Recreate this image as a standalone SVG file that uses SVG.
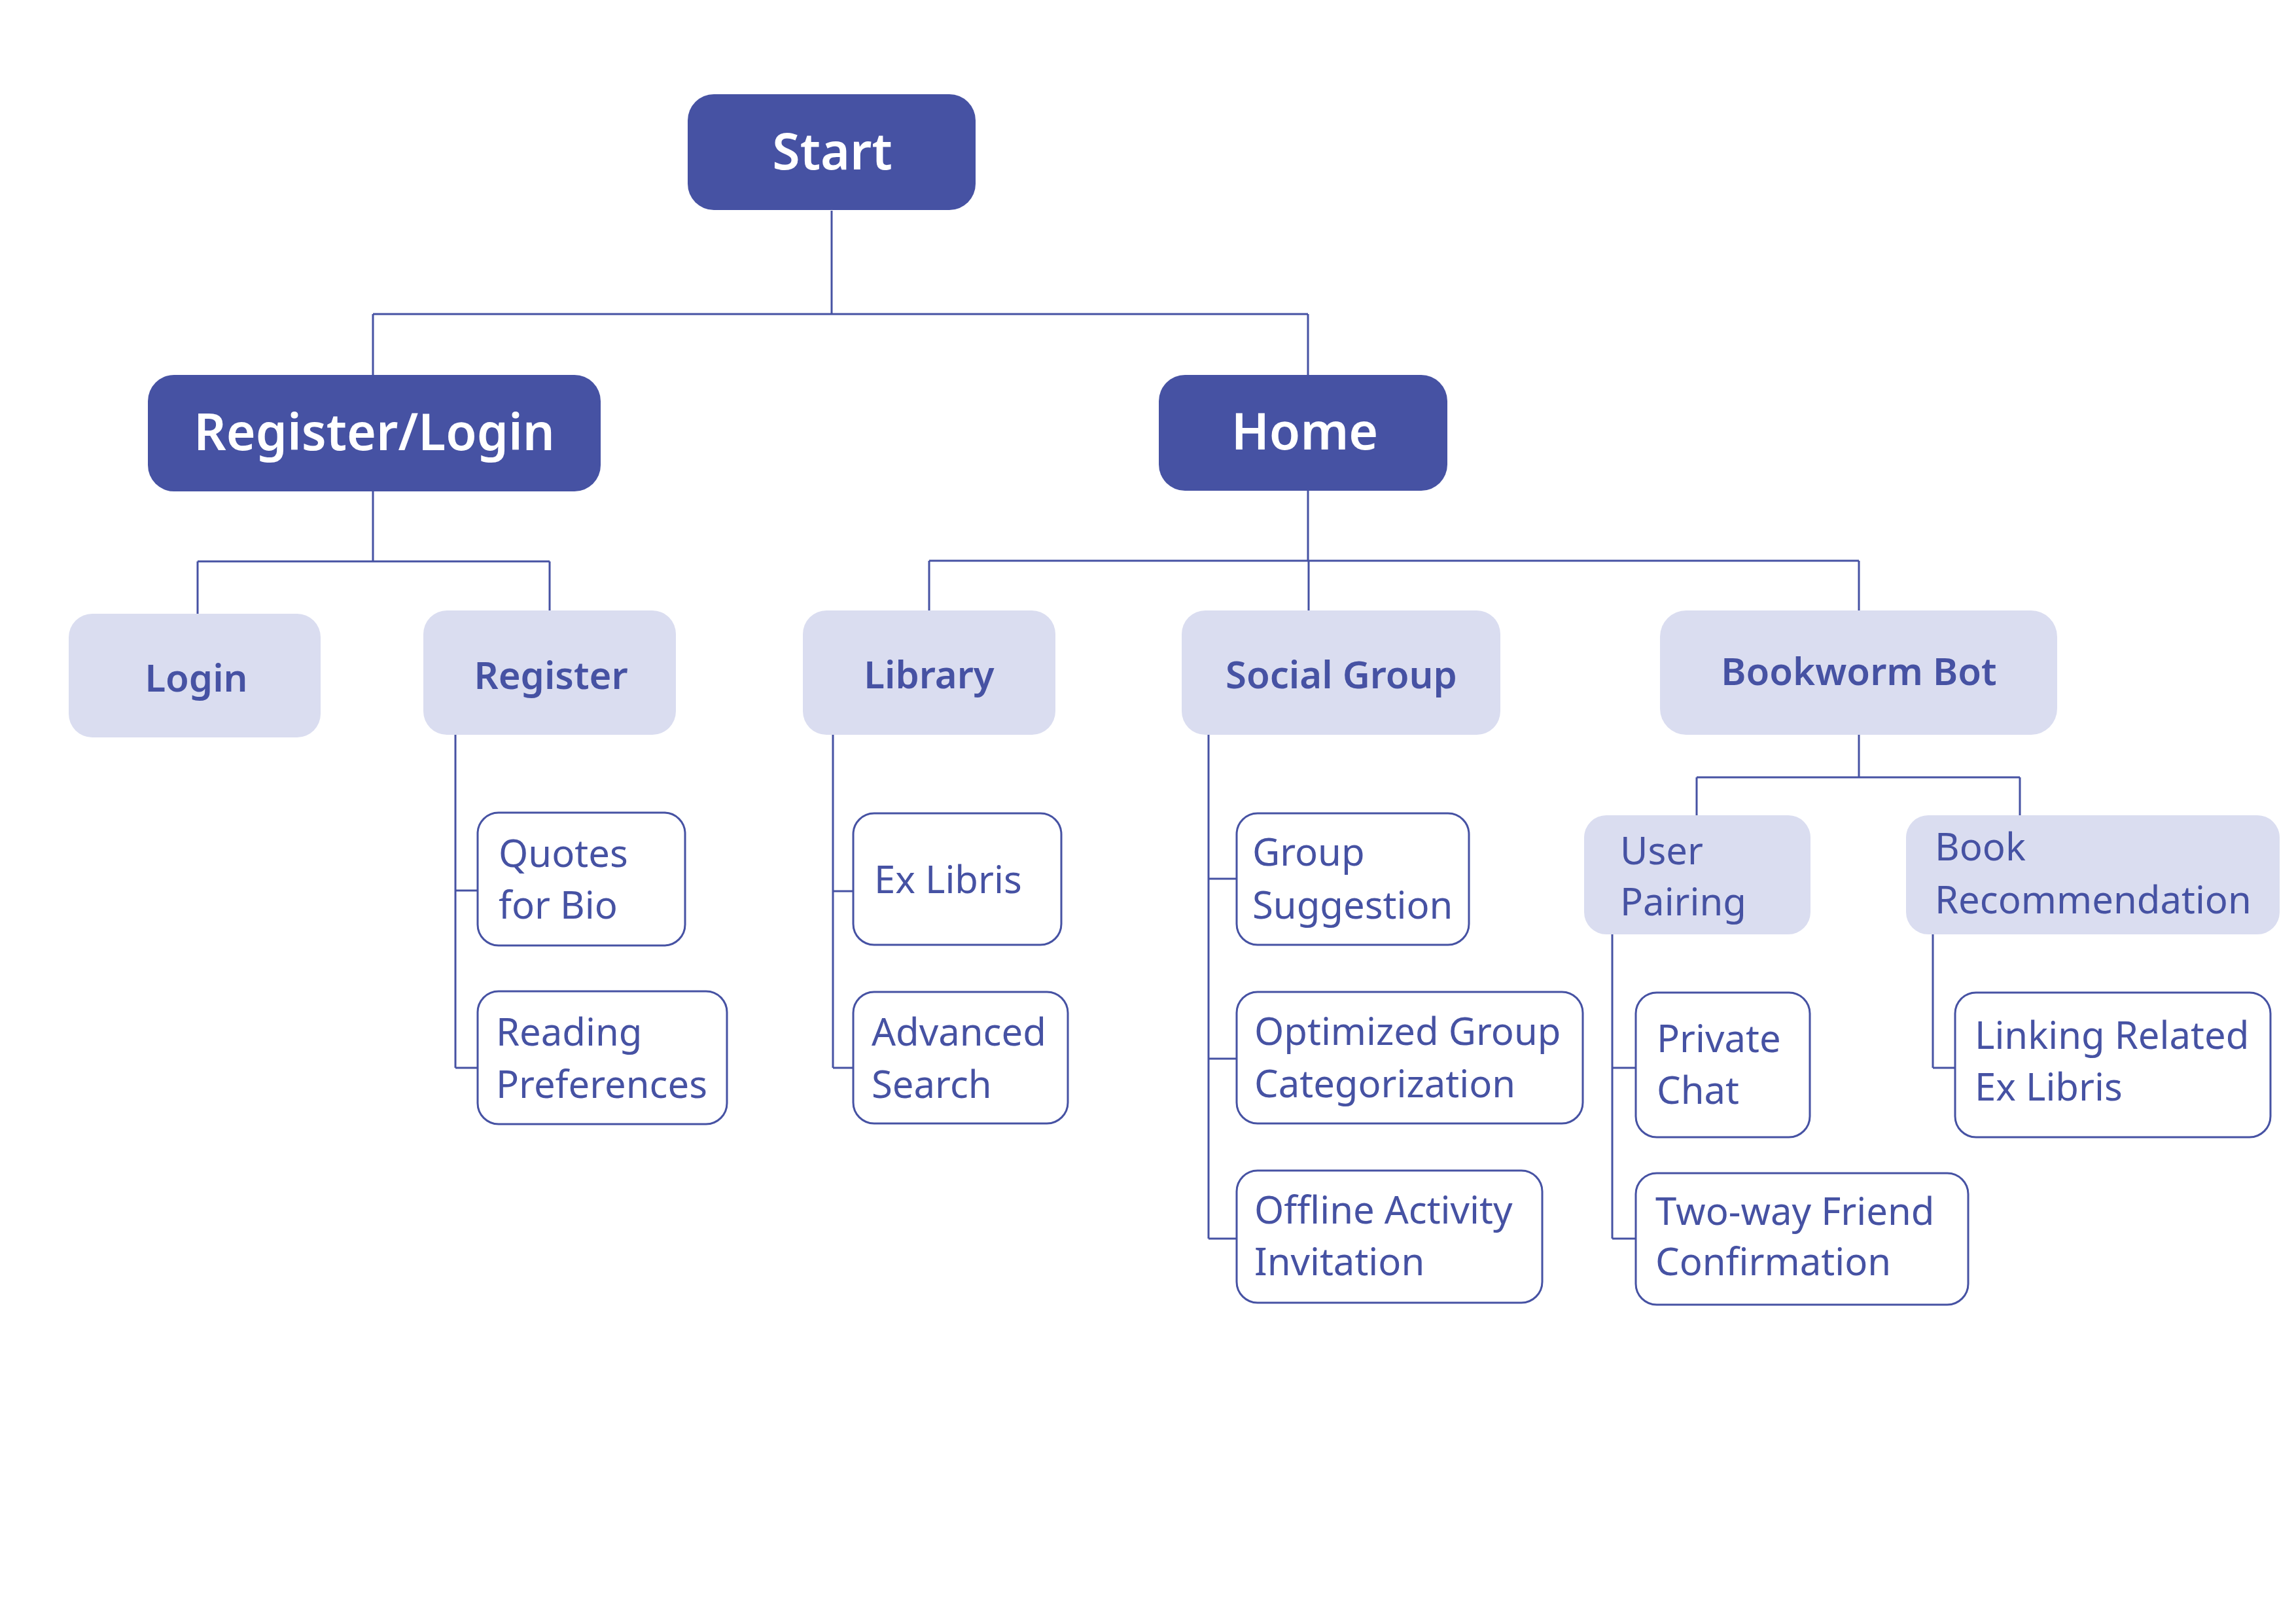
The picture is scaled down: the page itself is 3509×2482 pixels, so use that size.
<svg xmlns="http://www.w3.org/2000/svg" width="3509" height="2482" viewBox="0 0 3509 2482">
<style>
.top rect{fill:#4652A3}
.top text{fill:#fff;font-family:"Noto Sans","Liberation Sans",sans-serif;font-weight:600;font-size:77px;text-anchor:middle}
.mid rect{fill:#DADDF0}
.mid text{fill:#4652A3;font-family:"Noto Sans","Liberation Sans",sans-serif;font-weight:600;font-size:58px;text-anchor:middle}
.sub rect{fill:#DADDF0}
.leaf rect{fill:#fff;stroke:#4652A3;stroke-width:3}
.sub text,.leaf text{fill:#4652A3;font-family:"Noto Sans","Liberation Sans",sans-serif;font-size:58px}
#connectors path{fill:none;stroke:#4652A3;stroke-width:3}
</style>
<rect width="3509" height="2482" fill="#fff"/>
<g id="connectors">
<path d="M1271 322V480M570 480H1999M570 480V573M1999 480V573"/>
<path d="M570 751V858M302 858H840M302 858V938M840 858V933"/>
<path d="M696 1123V1632M696 1361H730M696 1632H730"/>
<path d="M1999 750V857M1420 857H2841M1420 857V933M2000 857V933M2841 857V933"/>
<path d="M1273 1123V1632M1273 1362H1304M1273 1632H1304"/>
<path d="M1847 1123V1893M1847 1343H1890M1847 1618H1890M1847 1893H1890"/>
<path d="M2841 1123V1188M2593 1188H3087M2593 1188V1246M3087 1188V1246"/>
<path d="M2464 1428V1893M2464 1632H2500M2464 1893H2500"/>
<path d="M2954 1428V1632M2954 1632H2988"/>
</g>
<g id="start" class="top"><rect x="1051" y="144" width="440" height="177" rx="40"/><text x="1272" y="259">Start</text></g>
<g id="register-login" class="top"><rect x="226" y="573" width="692" height="178" rx="40"/><text x="572" y="688">Register/Login</text></g>
<g id="home" class="top"><rect x="1771" y="573" width="441" height="177" rx="40"/><text x="1994" y="687">Home</text></g>
<g id="login" class="mid"><rect x="105" y="938" width="385" height="189" rx="36"/><text x="300" y="1057">Login</text></g>
<g id="register" class="mid"><rect x="647" y="933" width="386" height="190" rx="36"/><text x="842" y="1053">Register</text></g>
<g id="library" class="mid"><rect x="1227" y="933" width="386" height="190" rx="36"/><text x="1420" y="1052">Library</text></g>
<g id="social-group" class="mid"><rect x="1806" y="933" width="487" height="190" rx="36"/><text x="2050" y="1052">Social Group</text></g>
<g id="bookworm-bot" class="mid"><rect x="2537" y="933" width="607" height="190" rx="40"/><text x="2841" y="1047">Bookworm Bot</text></g>
<g id="user-pairing" class="sub"><rect x="2421" y="1246" width="346" height="182" rx="34"/><text x="2476" y="1321">User</text><text x="2476" y="1399">Pairing</text></g>
<g id="book-recommendation" class="sub"><rect x="2913" y="1246" width="571" height="182" rx="34"/><text x="2957" y="1315">Book</text><text x="2957" y="1396">Recommendation</text></g>
<g id="quotes-for-bio" class="leaf"><rect x="730" y="1242" width="317" height="203" rx="32"/><text x="762" y="1325">Quotes</text><text x="762" y="1404">for Bio</text></g>
<g id="reading-preferences" class="leaf"><rect x="730" y="1515" width="381" height="203" rx="32"/><text x="758" y="1598">Reading</text><text x="758" y="1678">Preferences</text></g>
<g id="ex-libris" class="leaf"><rect x="1304" y="1243" width="318" height="201" rx="32"/><text x="1336" y="1365">Ex Libris</text></g>
<g id="advanced-search" class="leaf"><rect x="1304" y="1516" width="328" height="201" rx="32"/><text x="1332" y="1598">Advanced</text><text x="1332" y="1678">Search</text></g>
<g id="group-suggestion" class="leaf"><rect x="1890" y="1243" width="355" height="201" rx="32"/><text x="1914" y="1323">Group</text><text x="1914" y="1404">Suggestion</text></g>
<g id="optimized-group-categorization" class="leaf"><rect x="1890" y="1516" width="529" height="201" rx="32"/><text x="1917" y="1597">Optimized Group</text><text x="1917" y="1677">Categorization</text></g>
<g id="offline-activity-invitation" class="leaf"><rect x="1890" y="1789" width="467" height="202" rx="32"/><text x="1917" y="1870">Offline Activity</text><text x="1917" y="1949">Invitation</text></g>
<g id="private-chat" class="leaf"><rect x="2500" y="1517" width="266" height="221" rx="32"/><text x="2532" y="1608">Private</text><text x="2532" y="1687">Chat</text></g>
<g id="two-way-friend-confirmation" class="leaf"><rect x="2500" y="1793" width="508" height="201" rx="32"/><text x="2530" y="1872">Two-way Friend</text><text x="2530" y="1949">Confirmation</text></g>
<g id="linking-related-ex-libris" class="leaf"><rect x="2988" y="1517" width="482" height="221" rx="32"/><text x="3018" y="1603">Linking Related</text><text x="3018" y="1682">Ex Libris</text></g>
</svg>
